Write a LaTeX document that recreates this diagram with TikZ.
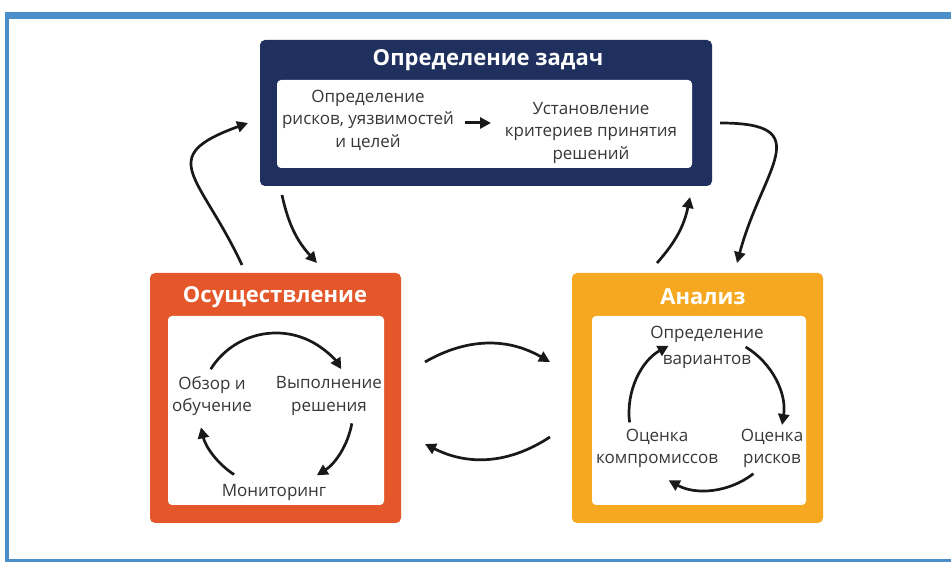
\documentclass[tikz,border=0pt]{standalone}
\usepackage{fontspec}
\setmainfont{Open Sans}
\usetikzlibrary{arrows.meta}
\pgfdeclarelayer{boxlayer}
\pgfdeclarelayer{nodelayer}
\pgfsetlayers{boxlayer,nodelayer,main}
\definecolor{frameblue}{RGB}{74,142,202}
\definecolor{goalnavy}{RGB}{31,48,94}
\definecolor{dored}{RGB}{227,87,42}
\definecolor{analorange}{RGB}{246,168,32}
\definecolor{textgray}{RGB}{55,55,55}
\tikzstyle{panel}=[rounded corners=5pt,inner sep=0pt]
\tikzstyle{innerbox}=[rounded corners=4pt,inner sep=0pt,fill=white]
\tikzstyle{paneltitle}=[text=white,inner sep=0pt,font=\fontsize{22}{26}\selectfont\bfseries]
\tikzstyle{stagetext}=[align=center,inner sep=0pt,text=textgray,font=\fontsize{17}{22.5}\selectfont]
\tikzstyle{transition}=[-{Triangle[length=11pt,width=11pt]},line width=2.7pt,draw=black!90]

\begin{document}
\begin{tikzpicture}[x=1pt,y=1pt]
	\useasboundingbox (0,0) rectangle (951,562);
	\begin{pgfonlayer}{boxlayer}
		\fill [frameblue] (5,0) rectangle (951,550);
		\fill [white] (9,3) rectangle (951,543);
		\node [style=panel, fill=goalnavy, minimum width=452, minimum height=146] (0) at (486,449) {};
		\node [style=panel, fill=dored, minimum width=251, minimum height=250] (1) at (275.5,164) {};
		\node [style=panel, fill=analorange, minimum width=251, minimum height=250] (2) at (697.5,164) {};
		\node [style=innerbox, minimum width=415, minimum height=88] (3) at (484.5,438) {};
		\node [style=innerbox, minimum width=216, minimum height=189] (4) at (276,151.5) {};
		\node [style=innerbox, minimum width=214, minimum height=189] (5) at (699,151.5) {};
	\end{pgfonlayer}
	\begin{pgfonlayer}{nodelayer}
		\node [style=paneltitle] (6) at (488,502) {Определение задач};
		\node [style=paneltitle] (7) at (275,265) {Осуществление};
		\node [style=paneltitle] (8) at (703,265) {Анализ};
		\node [style=stagetext] (9) at (368,442) {Определение\\рисков, уязвимостей\\и целей};
		\node [style=stagetext] (10) at (591,429.5) {Установление\\критериев принятия\\решений};
		\node [style=stagetext] (11) at (212,166) {Обзор и\\обучение};
		\node [style=stagetext] (12) at (329,166) {Выполнение\\решения};
		\node [style=stagetext] (13) at (274,70) {Мониторинг};
		\node [style=stagetext] (14) at (707,214.5) {Определение\\[4pt]вариантов};
		\node [style=stagetext] (15) at (772,113.5) {Оценка\\рисков};
		\node [style=stagetext] (16) at (657,113.5) {Оценка\\компромиссов};
	\end{pgfonlayer}
	% ends of the connectors between the panels
	\coordinate (17) at (242,297);
	\coordinate (18) at (248,439);
	\coordinate (19) at (282,367);
	\coordinate (20) at (317,299);
	\coordinate (21) at (657,299);
	\coordinate (22) at (690,365);
	\coordinate (23) at (720,439);
	\coordinate (24) at (737,299);
	\coordinate (25) at (425,200);
	\coordinate (26) at (550,200);
	\coordinate (27) at (550,125);
	\coordinate (28) at (425,118);
	\coordinate (31) at (465,439);
	\coordinate (32) at (491,439);
	% centres of the two cycles
	\coordinate (29) at (276,152);
	\coordinate (30) at (706,149);
	\draw [style=transition] (17) to [out=115, in=200, looseness=1.8] (18);
	\draw [style=transition] (19) to [bend right=15] (20);
	\draw [style=transition] (21) to [bend right=15] (22);
	\draw [style=transition] (23) to [out=0, in=75, looseness=1.8] (24);
	\draw [style=transition] (25) to [bend left=30] (26);
	\draw [style=transition] (27) to [bend left=30] (28);
	\draw [style=transition, line width=3pt] (31) -- (32);
	\draw [style=transition] ([shift={(148:77)}]29) arc [start angle=148, end angle=32, radius=77];
	\draw [style=transition] ([shift={(-10:77)}]29) arc [start angle=-10, end angle=-58, radius=77];
	\draw [style=transition] ([shift={(-123:77)}]29) arc [start angle=-123, end angle=-167, radius=77];
	\draw [style=transition] ([shift={(59:77)}]30) arc [start angle=59, end angle=-9, radius=77];
	\draw [style=transition] ([shift={(-52:77)}]30) arc [start angle=-52, end angle=-119, radius=77];
	\draw [style=transition] ([shift={(187:77)}]30) arc [start angle=187, end angle=119, radius=77];
\end{tikzpicture}
\end{document}
